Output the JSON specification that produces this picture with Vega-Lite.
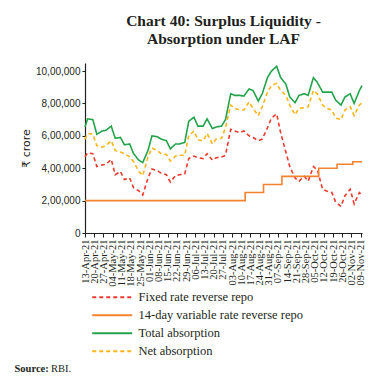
{
  "$schema": "https://vega.github.io/schema/vega-lite/v6.json",
  "padding": {"left": 14, "top": 13, "right": 5, "bottom": 0},
  "background": "white",
  "config": {
    "view": {"stroke": null},
    "font": "Liberation Serif",
    "axis": {"domainColor": "#231f20", "tickColor": "#231f20", "labelColor": "#231f20", "titleColor": "#231f20", "grid": false, "domainWidth": 1.2, "tickWidth": 1},
    "title": {"color": "#231f20"},
    "legend": {"orient": "none", "legendX": 21, "legendY": 228, "direction": "vertical", "symbolType": "M-4,0H4", "symbolSize": 100, "symbolStrokeWidth": 2, "labelFont": "Liberation Serif", "labelFontSize": 12.5, "labelColor": "#231f20", "labelOffset": 20, "labelLimit": 0, "rowPadding": 5, "padding": 0}
  },
  "title": {"text": "RBI.", "orient": "bottom", "anchor": "start", "font": "Liberation Serif", "fontSize": 10.5, "fontWeight": "normal", "color": "#231f20", "dx": 37, "dy": -10, "offset": 0},
  "datasets": {
    "main": [
      {"date": "2021-04-13", "series": "Total absorption", "value": 655000},
      {"date": "2021-04-15", "series": "Total absorption", "value": 705000},
      {"date": "2021-04-19", "series": "Total absorption", "value": 700000},
      {"date": "2021-04-22", "series": "Total absorption", "value": 610000},
      {"date": "2021-04-26", "series": "Total absorption", "value": 630000},
      {"date": "2021-04-29", "series": "Total absorption", "value": 635000},
      {"date": "2021-05-03", "series": "Total absorption", "value": 660000},
      {"date": "2021-05-06", "series": "Total absorption", "value": 585000},
      {"date": "2021-05-10", "series": "Total absorption", "value": 590000},
      {"date": "2021-05-13", "series": "Total absorption", "value": 545000},
      {"date": "2021-05-17", "series": "Total absorption", "value": 550000},
      {"date": "2021-05-20", "series": "Total absorption", "value": 490000},
      {"date": "2021-05-24", "series": "Total absorption", "value": 450000},
      {"date": "2021-05-27", "series": "Total absorption", "value": 435000},
      {"date": "2021-05-31", "series": "Total absorption", "value": 510000},
      {"date": "2021-06-03", "series": "Total absorption", "value": 600000},
      {"date": "2021-06-07", "series": "Total absorption", "value": 595000},
      {"date": "2021-06-10", "series": "Total absorption", "value": 580000},
      {"date": "2021-06-14", "series": "Total absorption", "value": 570000},
      {"date": "2021-06-17", "series": "Total absorption", "value": 520000},
      {"date": "2021-06-21", "series": "Total absorption", "value": 550000},
      {"date": "2021-06-24", "series": "Total absorption", "value": 550000},
      {"date": "2021-06-28", "series": "Total absorption", "value": 560000},
      {"date": "2021-07-01", "series": "Total absorption", "value": 690000},
      {"date": "2021-07-05", "series": "Total absorption", "value": 715000},
      {"date": "2021-07-08", "series": "Total absorption", "value": 660000},
      {"date": "2021-07-12", "series": "Total absorption", "value": 660000},
      {"date": "2021-07-15", "series": "Total absorption", "value": 705000},
      {"date": "2021-07-19", "series": "Total absorption", "value": 645000},
      {"date": "2021-07-22", "series": "Total absorption", "value": 655000},
      {"date": "2021-07-26", "series": "Total absorption", "value": 660000},
      {"date": "2021-07-29", "series": "Total absorption", "value": 700000},
      {"date": "2021-08-02", "series": "Total absorption", "value": 860000},
      {"date": "2021-08-05", "series": "Total absorption", "value": 850000},
      {"date": "2021-08-09", "series": "Total absorption", "value": 850000},
      {"date": "2021-08-12", "series": "Total absorption", "value": 845000},
      {"date": "2021-08-16", "series": "Total absorption", "value": 890000},
      {"date": "2021-08-19", "series": "Total absorption", "value": 880000},
      {"date": "2021-08-23", "series": "Total absorption", "value": 815000},
      {"date": "2021-08-26", "series": "Total absorption", "value": 860000},
      {"date": "2021-08-30", "series": "Total absorption", "value": 960000},
      {"date": "2021-09-02", "series": "Total absorption", "value": 1000000},
      {"date": "2021-09-06", "series": "Total absorption", "value": 1030000},
      {"date": "2021-09-09", "series": "Total absorption", "value": 960000},
      {"date": "2021-09-13", "series": "Total absorption", "value": 920000},
      {"date": "2021-09-16", "series": "Total absorption", "value": 840000},
      {"date": "2021-09-20", "series": "Total absorption", "value": 805000},
      {"date": "2021-09-23", "series": "Total absorption", "value": 850000},
      {"date": "2021-09-27", "series": "Total absorption", "value": 860000},
      {"date": "2021-09-30", "series": "Total absorption", "value": 850000},
      {"date": "2021-10-04", "series": "Total absorption", "value": 960000},
      {"date": "2021-10-07", "series": "Total absorption", "value": 930000},
      {"date": "2021-10-11", "series": "Total absorption", "value": 870000},
      {"date": "2021-10-14", "series": "Total absorption", "value": 870000},
      {"date": "2021-10-18", "series": "Total absorption", "value": 870000},
      {"date": "2021-10-21", "series": "Total absorption", "value": 820000},
      {"date": "2021-10-25", "series": "Total absorption", "value": 790000},
      {"date": "2021-10-28", "series": "Total absorption", "value": 840000},
      {"date": "2021-11-01", "series": "Total absorption", "value": 860000},
      {"date": "2021-11-04", "series": "Total absorption", "value": 800000},
      {"date": "2021-11-08", "series": "Total absorption", "value": 880000},
      {"date": "2021-11-10", "series": "Total absorption", "value": 910000},
      {"date": "2021-04-13", "series": "Net absorption", "value": 580000},
      {"date": "2021-04-15", "series": "Net absorption", "value": 615000},
      {"date": "2021-04-19", "series": "Net absorption", "value": 610000},
      {"date": "2021-04-22", "series": "Net absorption", "value": 540000},
      {"date": "2021-04-26", "series": "Net absorption", "value": 530000},
      {"date": "2021-04-29", "series": "Net absorption", "value": 540000},
      {"date": "2021-05-03", "series": "Net absorption", "value": 570000},
      {"date": "2021-05-06", "series": "Net absorption", "value": 510000},
      {"date": "2021-05-10", "series": "Net absorption", "value": 500000},
      {"date": "2021-05-13", "series": "Net absorption", "value": 490000},
      {"date": "2021-05-17", "series": "Net absorption", "value": 470000},
      {"date": "2021-05-20", "series": "Net absorption", "value": 440000},
      {"date": "2021-05-24", "series": "Net absorption", "value": 380000},
      {"date": "2021-05-27", "series": "Net absorption", "value": 355000},
      {"date": "2021-05-31", "series": "Net absorption", "value": 470000},
      {"date": "2021-06-03", "series": "Net absorption", "value": 525000},
      {"date": "2021-06-07", "series": "Net absorption", "value": 510000},
      {"date": "2021-06-10", "series": "Net absorption", "value": 490000},
      {"date": "2021-06-14", "series": "Net absorption", "value": 485000},
      {"date": "2021-06-17", "series": "Net absorption", "value": 445000},
      {"date": "2021-06-21", "series": "Net absorption", "value": 475000},
      {"date": "2021-06-24", "series": "Net absorption", "value": 480000},
      {"date": "2021-06-28", "series": "Net absorption", "value": 480000},
      {"date": "2021-07-01", "series": "Net absorption", "value": 600000},
      {"date": "2021-07-05", "series": "Net absorption", "value": 630000},
      {"date": "2021-07-08", "series": "Net absorption", "value": 575000},
      {"date": "2021-07-12", "series": "Net absorption", "value": 570000},
      {"date": "2021-07-15", "series": "Net absorption", "value": 615000},
      {"date": "2021-07-19", "series": "Net absorption", "value": 550000},
      {"date": "2021-07-22", "series": "Net absorption", "value": 580000},
      {"date": "2021-07-26", "series": "Net absorption", "value": 585000},
      {"date": "2021-07-29", "series": "Net absorption", "value": 650000},
      {"date": "2021-08-02", "series": "Net absorption", "value": 790000},
      {"date": "2021-08-05", "series": "Net absorption", "value": 770000},
      {"date": "2021-08-09", "series": "Net absorption", "value": 760000},
      {"date": "2021-08-12", "series": "Net absorption", "value": 760000},
      {"date": "2021-08-16", "series": "Net absorption", "value": 810000},
      {"date": "2021-08-19", "series": "Net absorption", "value": 770000},
      {"date": "2021-08-23", "series": "Net absorption", "value": 725000},
      {"date": "2021-08-26", "series": "Net absorption", "value": 780000},
      {"date": "2021-08-30", "series": "Net absorption", "value": 870000},
      {"date": "2021-09-02", "series": "Net absorption", "value": 910000},
      {"date": "2021-09-06", "series": "Net absorption", "value": 925000},
      {"date": "2021-09-09", "series": "Net absorption", "value": 880000},
      {"date": "2021-09-13", "series": "Net absorption", "value": 850000},
      {"date": "2021-09-16", "series": "Net absorption", "value": 790000},
      {"date": "2021-09-20", "series": "Net absorption", "value": 730000},
      {"date": "2021-09-23", "series": "Net absorption", "value": 770000},
      {"date": "2021-09-27", "series": "Net absorption", "value": 775000},
      {"date": "2021-09-30", "series": "Net absorption", "value": 780000},
      {"date": "2021-10-04", "series": "Net absorption", "value": 880000},
      {"date": "2021-10-07", "series": "Net absorption", "value": 860000},
      {"date": "2021-10-11", "series": "Net absorption", "value": 790000},
      {"date": "2021-10-14", "series": "Net absorption", "value": 770000},
      {"date": "2021-10-18", "series": "Net absorption", "value": 760000},
      {"date": "2021-10-21", "series": "Net absorption", "value": 710000},
      {"date": "2021-10-25", "series": "Net absorption", "value": 700000},
      {"date": "2021-10-28", "series": "Net absorption", "value": 760000},
      {"date": "2021-11-01", "series": "Net absorption", "value": 780000},
      {"date": "2021-11-04", "series": "Net absorption", "value": 725000},
      {"date": "2021-11-08", "series": "Net absorption", "value": 790000},
      {"date": "2021-11-10", "series": "Net absorption", "value": 805000},
      {"date": "2021-04-13", "series": "Fixed rate reverse repo", "value": 470000},
      {"date": "2021-04-15", "series": "Fixed rate reverse repo", "value": 495000},
      {"date": "2021-04-19", "series": "Fixed rate reverse repo", "value": 490000},
      {"date": "2021-04-22", "series": "Fixed rate reverse repo", "value": 410000},
      {"date": "2021-04-26", "series": "Fixed rate reverse repo", "value": 420000},
      {"date": "2021-04-29", "series": "Fixed rate reverse repo", "value": 425000},
      {"date": "2021-05-03", "series": "Fixed rate reverse repo", "value": 455000},
      {"date": "2021-05-06", "series": "Fixed rate reverse repo", "value": 360000},
      {"date": "2021-05-10", "series": "Fixed rate reverse repo", "value": 380000},
      {"date": "2021-05-13", "series": "Fixed rate reverse repo", "value": 330000},
      {"date": "2021-05-17", "series": "Fixed rate reverse repo", "value": 340000},
      {"date": "2021-05-20", "series": "Fixed rate reverse repo", "value": 280000},
      {"date": "2021-05-24", "series": "Fixed rate reverse repo", "value": 260000},
      {"date": "2021-05-27", "series": "Fixed rate reverse repo", "value": 235000},
      {"date": "2021-05-31", "series": "Fixed rate reverse repo", "value": 340000},
      {"date": "2021-06-03", "series": "Fixed rate reverse repo", "value": 395000},
      {"date": "2021-06-07", "series": "Fixed rate reverse repo", "value": 385000},
      {"date": "2021-06-10", "series": "Fixed rate reverse repo", "value": 370000},
      {"date": "2021-06-14", "series": "Fixed rate reverse repo", "value": 360000},
      {"date": "2021-06-17", "series": "Fixed rate reverse repo", "value": 315000},
      {"date": "2021-06-21", "series": "Fixed rate reverse repo", "value": 355000},
      {"date": "2021-06-24", "series": "Fixed rate reverse repo", "value": 360000},
      {"date": "2021-06-28", "series": "Fixed rate reverse repo", "value": 365000},
      {"date": "2021-07-01", "series": "Fixed rate reverse repo", "value": 460000},
      {"date": "2021-07-05", "series": "Fixed rate reverse repo", "value": 475000},
      {"date": "2021-07-08", "series": "Fixed rate reverse repo", "value": 465000},
      {"date": "2021-07-12", "series": "Fixed rate reverse repo", "value": 460000},
      {"date": "2021-07-15", "series": "Fixed rate reverse repo", "value": 490000},
      {"date": "2021-07-19", "series": "Fixed rate reverse repo", "value": 450000},
      {"date": "2021-07-22", "series": "Fixed rate reverse repo", "value": 465000},
      {"date": "2021-07-26", "series": "Fixed rate reverse repo", "value": 470000},
      {"date": "2021-07-29", "series": "Fixed rate reverse repo", "value": 480000},
      {"date": "2021-08-02", "series": "Fixed rate reverse repo", "value": 640000},
      {"date": "2021-08-05", "series": "Fixed rate reverse repo", "value": 630000},
      {"date": "2021-08-09", "series": "Fixed rate reverse repo", "value": 620000},
      {"date": "2021-08-12", "series": "Fixed rate reverse repo", "value": 630000},
      {"date": "2021-08-16", "series": "Fixed rate reverse repo", "value": 600000},
      {"date": "2021-08-19", "series": "Fixed rate reverse repo", "value": 590000},
      {"date": "2021-08-23", "series": "Fixed rate reverse repo", "value": 570000},
      {"date": "2021-08-26", "series": "Fixed rate reverse repo", "value": 580000},
      {"date": "2021-08-30", "series": "Fixed rate reverse repo", "value": 650000},
      {"date": "2021-09-02", "series": "Fixed rate reverse repo", "value": 710000},
      {"date": "2021-09-06", "series": "Fixed rate reverse repo", "value": 735000},
      {"date": "2021-09-09", "series": "Fixed rate reverse repo", "value": 620000},
      {"date": "2021-09-13", "series": "Fixed rate reverse repo", "value": 500000},
      {"date": "2021-09-16", "series": "Fixed rate reverse repo", "value": 410000},
      {"date": "2021-09-20", "series": "Fixed rate reverse repo", "value": 340000},
      {"date": "2021-09-23", "series": "Fixed rate reverse repo", "value": 320000},
      {"date": "2021-09-27", "series": "Fixed rate reverse repo", "value": 350000},
      {"date": "2021-09-30", "series": "Fixed rate reverse repo", "value": 320000},
      {"date": "2021-10-04", "series": "Fixed rate reverse repo", "value": 410000},
      {"date": "2021-10-07", "series": "Fixed rate reverse repo", "value": 390000},
      {"date": "2021-10-11", "series": "Fixed rate reverse repo", "value": 270000},
      {"date": "2021-10-14", "series": "Fixed rate reverse repo", "value": 260000},
      {"date": "2021-10-18", "series": "Fixed rate reverse repo", "value": 250000},
      {"date": "2021-10-21", "series": "Fixed rate reverse repo", "value": 190000},
      {"date": "2021-10-25", "series": "Fixed rate reverse repo", "value": 165000},
      {"date": "2021-10-28", "series": "Fixed rate reverse repo", "value": 230000},
      {"date": "2021-11-01", "series": "Fixed rate reverse repo", "value": 270000},
      {"date": "2021-11-04", "series": "Fixed rate reverse repo", "value": 180000},
      {"date": "2021-11-08", "series": "Fixed rate reverse repo", "value": 250000},
      {"date": "2021-11-10", "series": "Fixed rate reverse repo", "value": 235000}
    ],
    "vrrr": [
      {"date": "2021-04-13", "series": "14-day variable rate reverse repo", "value": 200000},
      {"date": "2021-08-13", "series": "14-day variable rate reverse repo", "value": 250000},
      {"date": "2021-08-27", "series": "14-day variable rate reverse repo", "value": 300000},
      {"date": "2021-09-10", "series": "14-day variable rate reverse repo", "value": 350000},
      {"date": "2021-10-08", "series": "14-day variable rate reverse repo", "value": 400000},
      {"date": "2021-10-22", "series": "14-day variable rate reverse repo", "value": 425000},
      {"date": "2021-11-03", "series": "14-day variable rate reverse repo", "value": 440000},
      {"date": "2021-11-10", "series": "14-day variable rate reverse repo", "value": 440000}
    ]
  },
  "vconcat": [{
    "title": {"text": ["Chart 40: Surplus Liquidity -", "Absorption under LAF"], "font": "Liberation Serif", "fontSize": 15.5, "fontWeight": "bold", "lineHeight": 18, "anchor": "middle", "offset": 16, "color": "#231f20"},
    "width": 277,
    "height": 170,
    "encoding": {
      "x": {"field": "date", "type": "temporal",
        "scale": {"type": "utc", "domain": [{"year": 2021, "month": 4, "date": 13, "utc": true}, {"year": 2021, "month": 11, "date": 10, "utc": true}]},
        "axis": {"title": "Source:", "titleX": -71, "titleY": 135, "titleAlign": "left", "titleAnchor": "start", "titleBaseline": "middle", "titleFont": "Liberation Serif", "titleFontSize": 10.5, "titleFontWeight": "bold",
          "format": "%d-%b-%y", "labelAngle": 270, "labelFont": "Liberation Serif", "labelFontSize": 10.5, "tickSize": 4, "labelPadding": 2, "labelOverlap": false, "labelFlush": false, "labelBound": false,
          "values": [
            {"year": 2021, "month": 4, "date": 13, "utc": true},
            {"year": 2021, "month": 4, "date": 20, "utc": true},
            {"year": 2021, "month": 4, "date": 27, "utc": true},
            {"year": 2021, "month": 5, "date": 4, "utc": true},
            {"year": 2021, "month": 5, "date": 11, "utc": true},
            {"year": 2021, "month": 5, "date": 18, "utc": true},
            {"year": 2021, "month": 5, "date": 25, "utc": true},
            {"year": 2021, "month": 6, "date": 1, "utc": true},
            {"year": 2021, "month": 6, "date": 8, "utc": true},
            {"year": 2021, "month": 6, "date": 15, "utc": true},
            {"year": 2021, "month": 6, "date": 22, "utc": true},
            {"year": 2021, "month": 6, "date": 29, "utc": true},
            {"year": 2021, "month": 7, "date": 6, "utc": true},
            {"year": 2021, "month": 7, "date": 13, "utc": true},
            {"year": 2021, "month": 7, "date": 20, "utc": true},
            {"year": 2021, "month": 7, "date": 27, "utc": true},
            {"year": 2021, "month": 8, "date": 3, "utc": true},
            {"year": 2021, "month": 8, "date": 10, "utc": true},
            {"year": 2021, "month": 8, "date": 17, "utc": true},
            {"year": 2021, "month": 8, "date": 24, "utc": true},
            {"year": 2021, "month": 8, "date": 31, "utc": true},
            {"year": 2021, "month": 9, "date": 7, "utc": true},
            {"year": 2021, "month": 9, "date": 14, "utc": true},
            {"year": 2021, "month": 9, "date": 21, "utc": true},
            {"year": 2021, "month": 9, "date": 28, "utc": true},
            {"year": 2021, "month": 10, "date": 5, "utc": true},
            {"year": 2021, "month": 10, "date": 12, "utc": true},
            {"year": 2021, "month": 10, "date": 19, "utc": true},
            {"year": 2021, "month": 10, "date": 26, "utc": true},
            {"year": 2021, "month": 11, "date": 2, "utc": true},
            {"year": 2021, "month": 11, "date": 9, "utc": true}
          ]}},
      "y": {"field": "value", "type": "quantitative",
        "scale": {"domain": [0, 1050000], "nice": false},
        "axis": {"title": "₹ crore", "values": [0, 200000, 400000, 600000, 800000, 1000000],
          "labelExpr": "datum.value == 0 ? '0' : format(datum.value / 100000, 'd') + ',00,000'",
          "labelFont": "Liberation Sans", "labelFontSize": 10, "tickSize": 3, "labelPadding": 2,
          "titleFont": "DejaVu Sans", "titleFontSize": 11, "titleFontWeight": "normal", "titlePadding": 4}},
      "color": {"field": "series", "type": "nominal",
        "scale": {"domain": ["Fixed rate reverse repo", "14-day variable rate reverse repo", "Total absorption", "Net absorption"],
                  "range": ["#ee3a2c", "#f5822e", "#23a34a", "#fbb41a"]},
        "legend": {"title": null}},
      "strokeDash": {"field": "series", "type": "nominal",
        "scale": {"domain": ["Fixed rate reverse repo", "14-day variable rate reverse repo", "Total absorption", "Net absorption"],
                  "range": [[4, 3], [1, 0], [1, 0], [4, 3]]},
        "legend": {"title": null}}
    },
    "layer": [
      {"data": {"name": "main"}, "mark": {"type": "line", "strokeWidth": 1.6}},
      {"data": {"name": "vrrr"}, "mark": {"type": "line", "strokeWidth": 1.6, "interpolate": "step-after"}}
    ]
  }]
}
